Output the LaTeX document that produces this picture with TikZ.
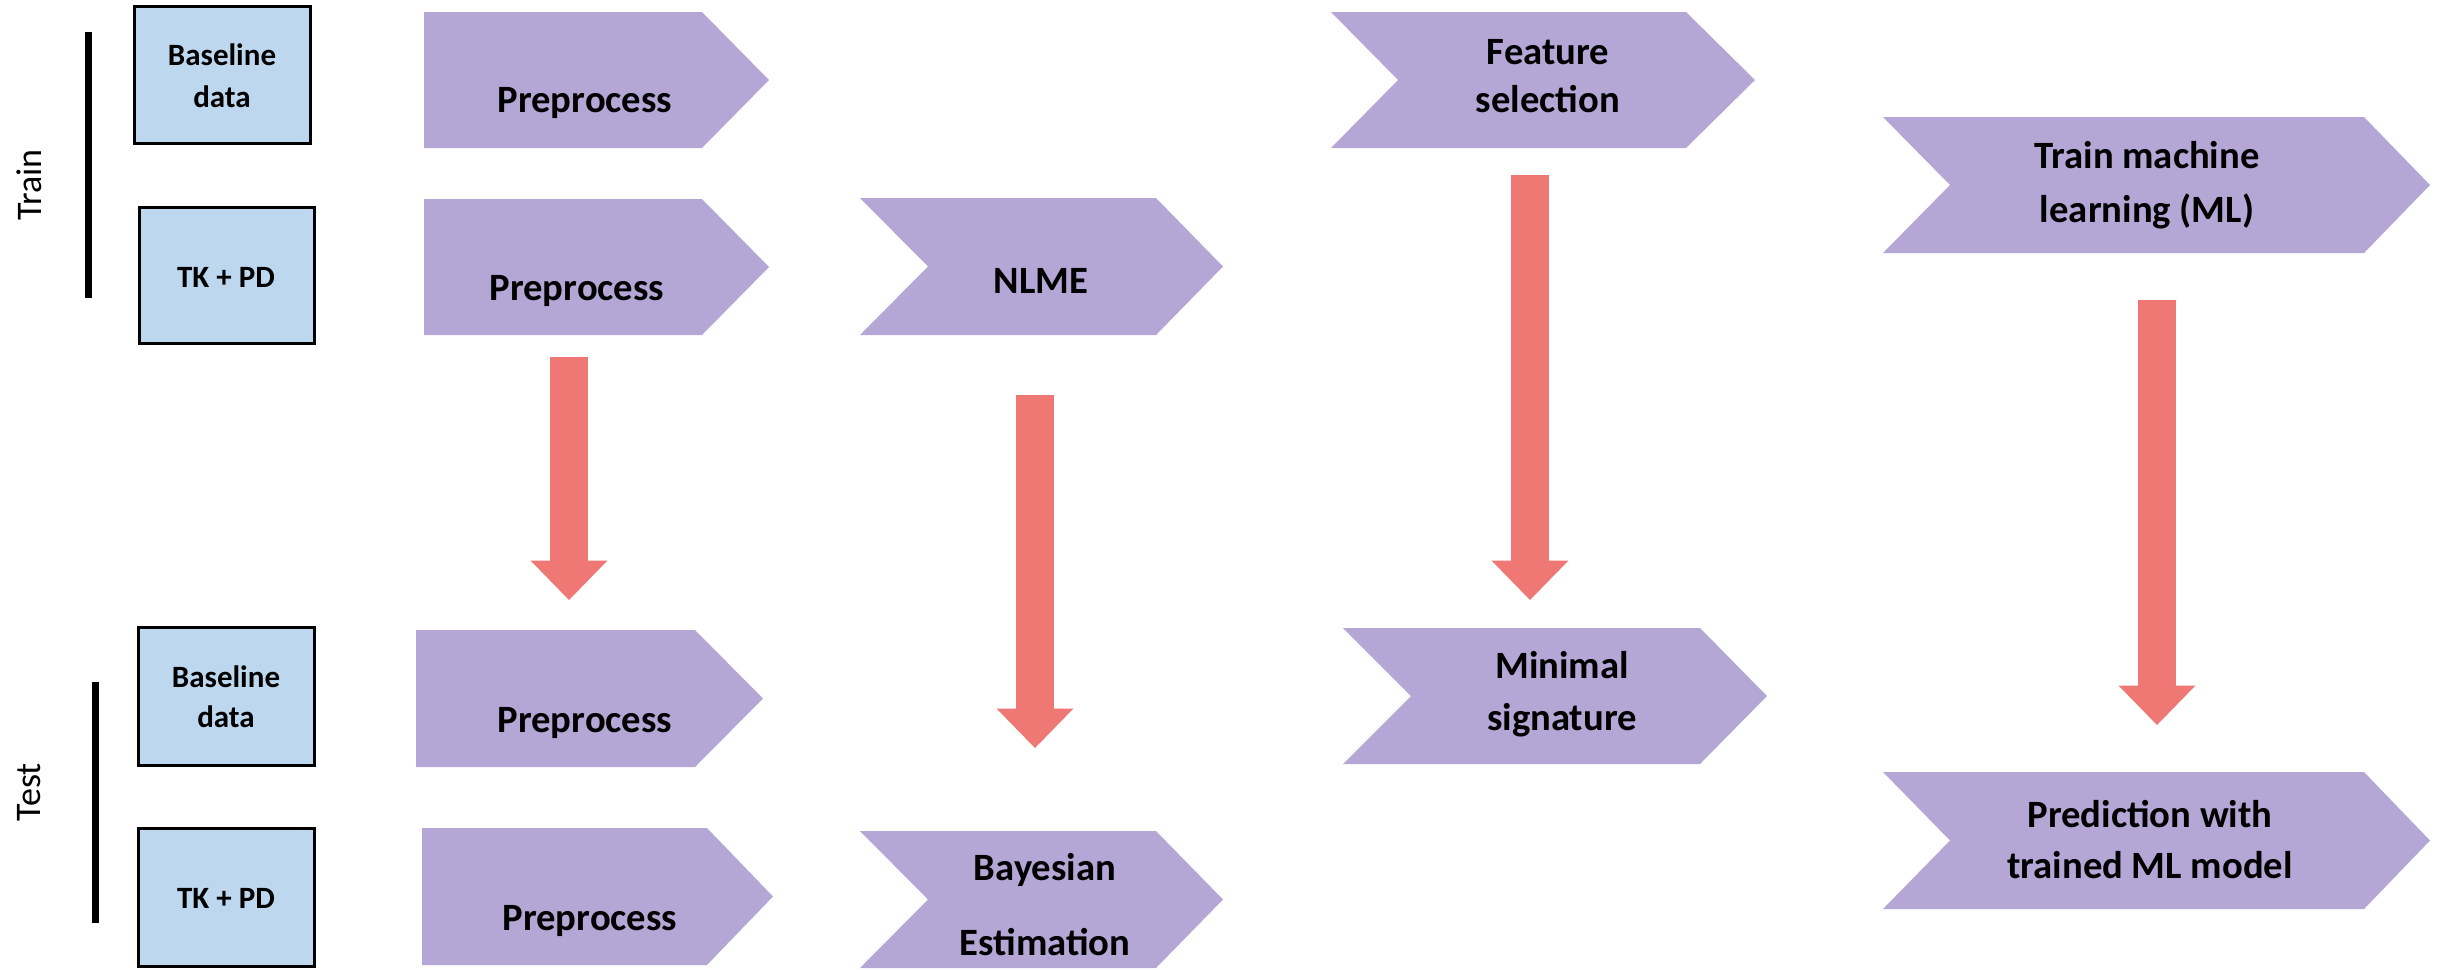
\documentclass[tikz,border=0pt]{standalone}
\usepackage{fontspec}
\setmainfont{Carlito}
\usetikzlibrary{arrows.meta}
\definecolor{boxblue}{RGB}{189,215,238}
\definecolor{chevpurple}{RGB}{180,167,214}
\definecolor{arrowred}{RGB}{239,120,116}
\newcommand\pentashape[5]{\fill[chevpurple] (#1,#4) -- (#2,#4) -- (#3,{(#4+#5)/2}) -- (#2,#5) -- (#1,#5) -- cycle;}
\newcommand\chevshape[6]{\fill[chevpurple] (#1,#5) -- (#3,#5) -- (#4,{(#5+#6)/2}) -- (#3,#6) -- (#1,#6) -- (#2,{(#5+#6)/2}) -- cycle;}
\tikzset{
  databox/.style={draw=black, line width=0.9pt, fill=boxblue},
  lbl/.style={inner sep=0pt, anchor=base, align=center, font=\bfseries\fontsize{11.6}{14.4}\selectfont},
  boxlbl/.style={inner sep=0pt, anchor=base, align=center, font=\bfseries\fontsize{9.3}{12.4}\selectfont},
  side/.style={inner sep=0pt, rotate=90, font=\fontsize{10.8}{13}\selectfont},
  bar/.style={line width=2.1pt, draw=black},
  redarrow/.style={draw=arrowred, line width=11.6pt, -{Triangle[length=11.8pt, width=23pt, line width=0pt]}}
}
\begin{document}
\begin{tikzpicture}[x=0.3pt, y=-0.3pt]
\useasboundingbox (0,0) rectangle (2445,969);
% side labels and bars
\node[side] (train) at (29,185) {Train};
\node[side] (test) at (29,792) {Test};
\coordinate (trt) at (88,32); \coordinate (trb) at (88,298);
\coordinate (tet) at (95,682); \coordinate (teb) at (95,923);
\draw[bar] (trt) -- (trb);
\draw[bar] (tet) -- (teb);
% data boxes
\draw[databox] (134,6) rectangle (310,143);
\draw[databox] (139,207) rectangle (314,343);
\draw[databox] (138,627) rectangle (314,765);
\draw[databox] (138,828) rectangle (314,966);
\node[boxlbl] (b1) at (222,107) {Baseline\\data};
\node[boxlbl] (t1) at (226,287) {TK + PD};
\node[boxlbl, font=\bfseries\fontsize{9.3}{11.8}\selectfont] (b2) at (226,727) {Baseline\\data};
\node[boxlbl] (t2) at (226,908) {TK + PD};
% pentagon shapes (Preprocess)
\pentashape{424}{702}{769}{12}{148}
\pentashape{424}{702}{769}{199}{335}
\pentashape{416}{695}{763}{630}{767}
\pentashape{422}{707}{773}{828}{965}
\node[lbl] (p1) at (585,112) {Preprocess};
\node[lbl] (p2) at (577,300) {Preprocess};
\node[lbl] (p3) at (585,732) {Preprocess};
\node[lbl] (p4) at (590,930) {Preprocess};
% chevrons
\chevshape{860}{928}{1156}{1223}{198}{335}
\chevshape{860}{928}{1156}{1223}{831}{968}
\chevshape{1331}{1398}{1686}{1755}{12}{148}
\chevshape{1343}{1411}{1700}{1767}{628}{764}
\chevshape{1883}{1950}{2364}{2430}{117}{253}
\chevshape{1883}{1950}{2364}{2430}{772}{909}
\node[lbl] (nlme) at (1041,293) {NLME};
\node[lbl, font=\bfseries\fontsize{11.6}{22.5}\selectfont] (bayes) at (1045,955) {Bayesian\\Estimation};
\node[lbl] (feat) at (1548,112) {Feature\\selection};
\node[lbl, font=\bfseries\fontsize{11.6}{15.6}\selectfont] (minsig) at (1562,730) {Minimal\\signature};
\node[lbl, font=\bfseries\fontsize{11.6}{16.2}\selectfont] (trainml) at (2147,222) {Train machine\\learning (ML)};
\node[lbl, font=\bfseries\fontsize{11.6}{15.3}\selectfont] (pred) at (2150,878) {Prediction with\\trained ML model};
% red arrows
\coordinate (a1s) at (569,357); \coordinate (a1e) at (569,600);
\coordinate (a2s) at (1035,395); \coordinate (a2e) at (1035,748);
\coordinate (a3s) at (1530,175); \coordinate (a3e) at (1530,600);
\coordinate (a4s) at (2157,300); \coordinate (a4e) at (2157,725);
\draw[redarrow] (a1s) -- (a1e);
\draw[redarrow] (a2s) -- (a2e);
\draw[redarrow] (a3s) -- (a3e);
\draw[redarrow] (a4s) -- (a4e);
\end{tikzpicture}
\end{document}
